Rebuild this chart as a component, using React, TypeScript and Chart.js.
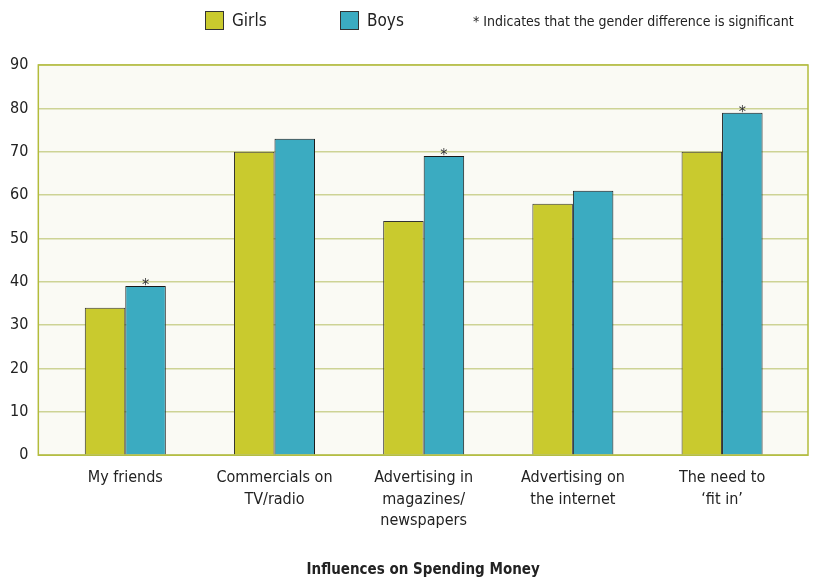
import React, { useEffect, useRef } from "react";
import { Chart, registerables } from "chart.js";

Chart.register(...registerables);

const categories: string[][] = [
  ["My friends"],
  ["Commercials on", "TV/radio"],
  ["Advertising in", "magazines/", "newspapers"],
  ["Advertising on", "the internet"],
  ["The need to", "\u2018fit in\u2019"],
];
const girls = [34, 70, 54, 58, 70];
const boys = [39, 73, 69, 61, 79];
const significant = [true, false, true, false, true];
const yTicks = [0, 10, 20, 30, 40, 50, 60, 70, 80, 90];

const FONT = "'Liberation Sans Narrow', 'DejaVu Sans Condensed', 'Roboto', sans-serif";
const GIRLS_COLOR = "#c9ca2e";
const BOYS_COLOR = "#3babc1";

const plotBg = {
  id: "plotBg",
  beforeDraw(chart: any) {
    const { ctx, chartArea } = chart;
    ctx.save();
    ctx.fillStyle = "#fafaf4";
    ctx.fillRect(chartArea.left, chartArea.top, chartArea.right - chartArea.left, chartArea.bottom - chartArea.top);
    ctx.restore();
  },
  afterDatasetsDraw(chart: any) {
    const { ctx, chartArea } = chart;
    ctx.save();
    ctx.strokeStyle = "#b3bc3c";
    ctx.lineWidth = 1.5;
    ctx.strokeRect(chartArea.left, chartArea.top, chartArea.right - chartArea.left, chartArea.bottom - chartArea.top);
    const meta = chart.getDatasetMeta(1);
    ctx.fillStyle = "#333";
    ctx.font = `16px ${FONT}`;
    ctx.textAlign = "center";
    ctx.textBaseline = "alphabetic";
    meta.data.forEach((el: any, i: number) => {
      if (significant[i]) ctx.fillText("*", el.x, el.y + 4);
    });
    ctx.restore();
  },
};

export default function App() {
  const ref = useRef<HTMLCanvasElement>(null);
  useEffect(() => {
    document.body.style.margin = "0";
    const chart = new Chart(ref.current!, {
      type: "bar",
      data: {
        datasets: [
          {
            label: "Girls",
            data: girls.map((v, i) => ({ x: i, y: v })),
            backgroundColor: GIRLS_COLOR,
            borderColor: "#333",
            borderWidth: 1,
            barPercentage: 1,
            categoryPercentage: 0.543,
          },
          {
            label: "Boys",
            data: boys.map((v, i) => ({ x: i, y: v })),
            backgroundColor: BOYS_COLOR,
            borderColor: "#1a1a1a",
            borderWidth: 1,
            barPercentage: 1,
            categoryPercentage: 0.543,
          },
        ],
      },
      options: {
        animation: false,
        responsive: false,
        maintainAspectRatio: false,
        layout: { padding: { top: 65, right: 6, left: 0, bottom: 0 } },
        plugins: {
          legend: { display: false },
          tooltip: { enabled: false },
        },
        scales: {
          x: {
            type: "linear",
            offset: false,
            min: -0.583,
            max: 4.576,
            grid: { display: false, drawTicks: false, offset: false },
            border: { display: false },
            ticks: {
              stepSize: 1,
              includeBounds: false,
              autoSkip: false,
              maxRotation: 0,
              padding: 12,
              color: "#222",
              font: { family: FONT, size: 16, lineHeight: 1.35 },
              callback: (v: any) => (Number.isInteger(v) && categories[v] ? categories[v] : ""),
            },
            title: {
              display: true,
              text: "Influences on Spending Money",
              color: "#222",
              font: { family: FONT, size: 15, weight: "bold" },
              padding: { top: 17, bottom: 0 },
            },
          },
          y: {
            min: 0,
            max: 90,
            afterBuildTicks: (axis: any) => {
              axis.ticks = yTicks.map((v) => ({ value: v }));
            },
            grid: { color: "#cdd395", lineWidth: 1.5, drawTicks: false },
            border: { display: false },
            ticks: {
              padding: 10,
              color: "#222",
              font: { family: FONT, size: 16 },
            },
          },
        },
      },
      plugins: [plotBg],
    });
    return () => chart.destroy();
  }, []);

  const sw = (c: string) => ({
    display: "inline-block",
    width: 19,
    height: 19,
    background: c,
    border: "1px solid #333",
    boxSizing: "border-box" as const,
    verticalAlign: "middle",
  });

  return (
    <div style={{ position: "relative", width: 814, height: 579, fontFamily: FONT, color: "#222" }}>
      <canvas ref={ref} width={814} height={579} style={{ display: "block" }} />
      <div style={{ position: "absolute", left: 205, top: 10, fontSize: 17, lineHeight: "20px", display: "flex", alignItems: "center" }}>
        <span style={sw(GIRLS_COLOR)} />
        <span style={{ marginLeft: 8 }}>Girls</span>
      </div>
      <div style={{ position: "absolute", left: 340, top: 10, fontSize: 17, lineHeight: "20px", display: "flex", alignItems: "center" }}>
        <span style={sw(BOYS_COLOR)} />
        <span style={{ marginLeft: 8 }}>Boys</span>
      </div>
      <div style={{ position: "absolute", left: 473, top: 11, fontSize: 14, lineHeight: "20px" }}>
        * Indicates that the gender difference is significant
      </div>
    </div>
  );
}
